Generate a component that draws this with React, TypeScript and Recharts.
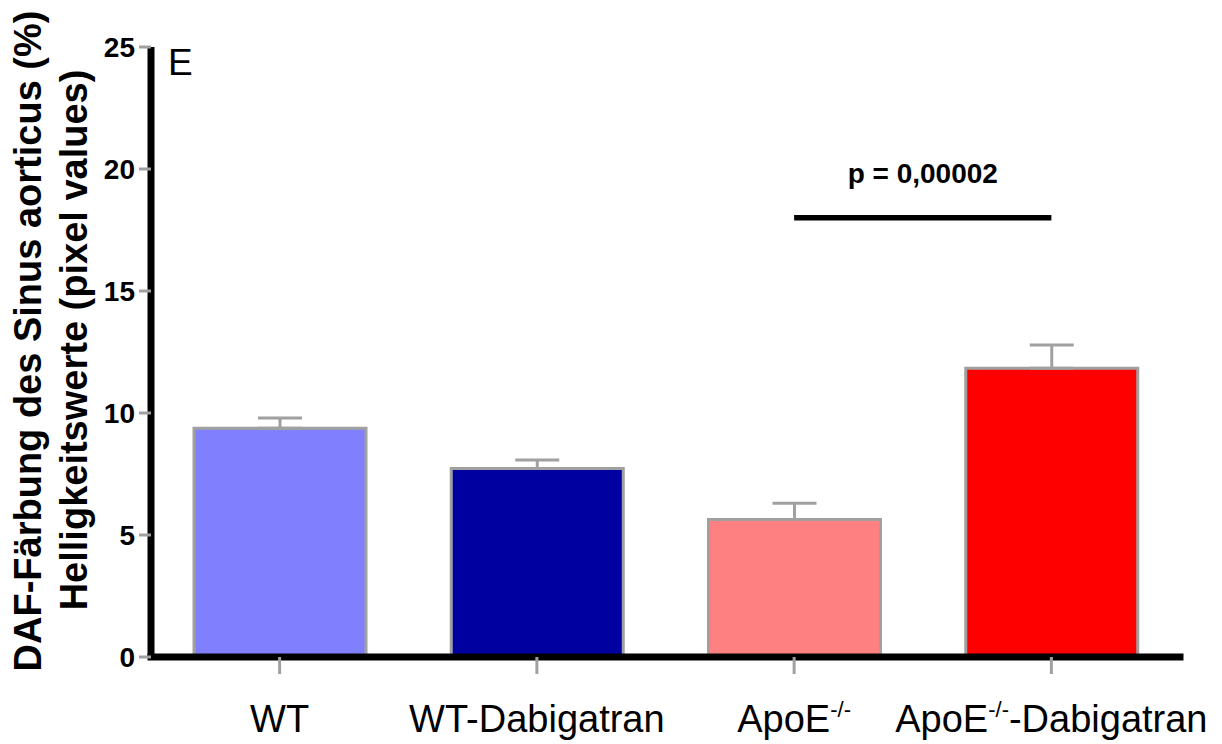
import React from "react";
import { BarChart, Bar, XAxis, YAxis, Cell, ErrorBar, ReferenceLine, Label } from "recharts";

const categories = ["WT", "WT-Dabigatran", "ApoE-/-", "ApoE-/--Dabigatran"];
const means = [9.37, 7.73, 5.64, 11.83];
const sems = [0.43, 0.34, 0.66, 0.96];
const fills = ["#8080FF", "#0000A0", "#FF8080", "#FF0000"];
const yTicks = [0, 5, 10, 15, 20, 25];
const pLabel = "p = 0,00002";
const pY = 18;
const yTitle1 = "DAF-Färbung des Sinus aorticus (%)";
const yTitle2 = "Helligkeitswerte (pixel values)";
const panelLetter = "E";

const data = categories.map((name, i) => ({ name, value: means[i], err: [0, sems[i]] }));

const FONT = "'Liberation Sans', Arial, Helvetica, sans-serif";
const GRAY = "#A0A0A0";

const XTick = (props: any) => {
  const { x, y, payload } = props;
  const label: string = payload.value;
  const sup = "-/-";
  const idx = label.indexOf(sup);
  if (idx < 0) {
    return (
      <text x={x} y={y + 56} textAnchor="middle" fontSize={38} fontFamily={FONT} fill="#000">
        {label}
      </text>
    );
  }
  const before = label.slice(0, idx);
  const after = label.slice(idx + sup.length);
  return (
    <text x={x} y={y + 56} textAnchor="middle" fontSize={38} fontFamily={FONT} fill="#000">
      <tspan>{before}</tspan>
      <tspan fontSize={22} dy={-15}>{sup}</tspan>
      {after ? <tspan dy={15}>{after}</tspan> : null}
    </text>
  );
};

const YTitle = () => (
  <g>
    <text
      transform="translate(40.5,341) rotate(-90)"
      textAnchor="middle"
      fontSize={38}
      fontWeight="bold"
      fontFamily={FONT}
      fill="#000"
    >
      {yTitle1}
    </text>
    <text
      transform="translate(87,340) rotate(-90)"
      textAnchor="middle"
      fontSize={38}
      fontWeight="bold"
      fontFamily={FONT}
      fill="#000"
    >
      {yTitle2}
    </text>
    <text x={168} y={75} fontSize={37} fontFamily={FONT} fill="#000">
      {panelLetter}
    </text>
  </g>
);

export default function App() {
  return (
    <div style={{ position: "absolute", left: 0, top: 0, width: 1222, height: 744, background: "#fff" }}>
      <BarChart
        width={1222}
        height={744}
        data={data}
        margin={{ top: 47, right: 42, bottom: 0, left: 0 }}
      >
        <XAxis
          dataKey="name"
          height={87}
          tick={<XTick />}
          tickSize={17}
          tickLine={{ stroke: GRAY, strokeWidth: 3 }}
          axisLine={{ stroke: "#000", strokeWidth: 7, strokeLinecap: "square" }}
          interval={0}
        />
        <YAxis
          type="number"
          domain={[0, 25]}
          ticks={yTicks}
          width={151}
          tickSize={12}
          tickMargin={4}
          tickLine={{ stroke: GRAY, strokeWidth: 3 }}
          axisLine={{ stroke: "#000", strokeWidth: 7 }}
          tick={{ fontSize: 28, fontWeight: "bold", fill: "#000", fontFamily: FONT }}
          label={{ content: () => <YTitle /> }}
        />
        <Bar dataKey="value" barSize={172} stroke={GRAY} strokeWidth={3} isAnimationActive={false}>
          {data.map((d, i) => (
            <Cell key={d.name} fill={fills[i]} />
          ))}
          <ErrorBar dataKey="err" width={22} stroke={GRAY} strokeWidth={3} direction="y" isAnimationActive={false} />
        </Bar>
        <ReferenceLine
          segment={[
            { x: categories[2], y: pY },
            { x: categories[3], y: pY },
          ]}
          stroke="#000"
          strokeWidth={5.5}
        >
          <Label
            value={pLabel}
            position="top"
            offset={35}
            fontSize={28}
            fontWeight="bold"
            fill="#000"
            fontFamily={FONT}
          />
        </ReferenceLine>
      </BarChart>
    </div>
  );
}
